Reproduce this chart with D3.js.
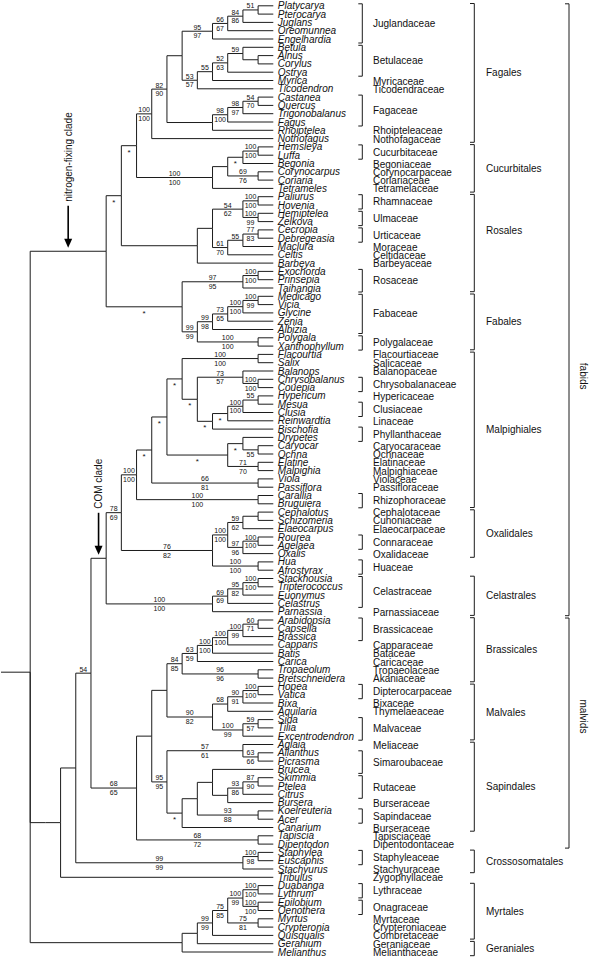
<!DOCTYPE html>
<html><head><meta charset="utf-8">
<script src="https://cdn.jsdelivr.net/npm/d3@7"></script>
<style>
html,body{margin:0;padding:0;background:#fff;}
svg{display:block;font-family:"Liberation Sans",Arial,Helvetica,sans-serif;}
</style></head><body>
<svg id="chart" width="600" height="975"></svg>
<script>
// ---------------- DATA ----------------
const taxa = ["Platycarya","Pterocarya","Juglans","Oreomunnea","Engelhardia","Betula","Alnus","Corylus","Ostrya","Myrica","Ticodendron","Castanea","Quercus","Trigonobalanus","Fagus","Rhoiptelea","Nothofagus","Hemsleya","Luffa","Begonia","Corynocarpus","Coriaria","Tetrameles","Paliurus","Hovenia","Hemiptelea","Zelkova","Cecropia","Debregeasia","Maclura","Celtis","Barbeya","Exochorda","Prinsepia","Taihangia","Medicago","Vicia","Glycine","Zenia","Albizia","Polygala","Xanthophyllum","Flacourtia","Salix","Balanops","Chrysobalanus","Couepia","Hypericum","Mesua","Clusia","Reinwardtia","Bischofia","Drypetes","Caryocar","Ochna","Elatine","Malpighia","Viola","Passiflora","Carallia","Bruguiera","Cephalotus","Schizomeria","Elaeocarpus","Rourea","Agelaea","Oxalis","Hua","Afrostyrax","Stackhousia","Tripterococcus","Euonymus","Celastrus","Parnassia","Arabidopsia","Capsella","Brassica","Capparis","Batis","Carica","Tropaeolum","Bretschneidera","Hopea","Vatica","Bixa","Aquilaria","Sida","Tilia","Excentrodendron","Aglaia","Ailanthus","Picrasma","Brucea","Skimmia","Ptelea","Citrus","Bursera","Koelreuteria","Acer","Canarium","Tapiscia","Dipentodon","Staphylea","Euscaphis","Stachyurus","Tribulus","Duabanga","Lythrum","Epilobium","Oenothera","Myrtus","Crypteronia","Quisqualis","Geranium","Melianthus"];

// clade topology with support values "top/bottom" (Newick pieces)
const fagalesTree = "(((((((Platycarya,Pterocarya)51/,Juglans)84/86,Oreomunnea)66/67,Engelhardia)95/97,((((Betula,(Alnus,Corylus))59/,Ostrya)52/63,Myrica)55/,Ticodendron)53/57),((((Castanea,Quercus)54/70,Trigonobalanus)98/97,Fagus)98/100,Rhoiptelea))82/90,Nothofagus)100/100";
const cucurbitalesTree = "((((Hemsleya,Luffa)100/100,Begonia)/*,(Corynocarpus,Coriaria)69/76),Tetrameles)100/100";
const rosalesTree = "((((Paliurus,Hovenia)100/100,(Hemiptelea,Zelkova)100/99)54/62,(((Cecropia,Debregeasia)77/83,Maclura)55/,Celtis)61/70),Barbeya)";
const rosaceaeFabalesTree = "(((Exochorda,Prinsepia)100/100,Taihangia)97/95,(((((Medicago,Vicia)100/99,Glycine)100/100,Zenia)73/65,Albizia)99/98,(Polygala,Xanthophyllum)100/100)99/99)/*";
const malpighialesTree = "((((((Flacourtia,Salix)100/100,((Balanops,(Chrysobalanus,Couepia)100/100)73/57,((((Hypericum,Mesua)55/,Clusia)100/100,Reinwardtia)/*,Bischofia)/*)/*)/*,((Drypetes,(Caryocar,Ochna)/55)/*,(Elatine,Malpighia)71/70)/*)/*,(Viola,Passiflora)66/81)/*,(Carallia,Bruguiera)100/100)100/100";
const oxalidalesTree = "((((Cephalotus,Schizomeria),Elaeocarpus)59/62,((Rourea,Agelaea)100/100,Oxalis)97/96)100/100,(Hua,Afrostyrax)100/100)76/82";
const celastralesTree = "((((Stackhousia,Tripterococcus)100/100,Euonymus)95/82,Celastrus)69/69,Parnassia)100/100";
const brassicalesTree = "((((((Arabidopsia,Capsella)60/71,Brassica)100/99,Capparis)100/100,Batis)100/100,Carica)63/59,(Tropaeolum,Bretschneidera)96/96)84/85";
const malvalesTree = "((((Hopea,Vatica)100/100,Bixa)90/91,Aquilaria)68/,((Sida,Tilia)59/57,Excentrodendron)100/99)90/82";
const sapindalesTree = "((Aglaia,(Ailanthus,Picrasma)63/66)57/61,(((Brucea,(((Skimmia,Ptelea)87/90,Citrus)93/86,Bursera)),(Koelreuteria,Acer)93/88),Canarium)/*)95/95";
const crossosomatalesTree = "((Staphylea,Euscaphis)100/98,Stachyurus)99/99";
const myrtalesGeranialesTree = "((((((Duabanga,Lythrum)100/100,(Epilobium,Oenothera)100/100)100/99,(Myrtus,Crypteronia)75/81)75/85,Quisqualis)99/99,Geranium),Melianthus)";

const nitrogenTree = "(((" + fagalesTree + "," + cucurbitalesTree + ")/*," + rosalesTree + ")/*," + rosaceaeFabalesTree + ")";
const comTree = "((" + malpighialesTree + "," + oxalidalesTree + ")78/69," + celastralesTree + ")";
const malvidsTree = "(((" + brassicalesTree + "," + malvalesTree + ")," + sapindalesTree + "),(Tapiscia,Dipentodon)68/72)68/65";
const restTree = "(((" + comTree + "," + malvidsTree + ")54/," + crossosomatalesTree + "),Tribulus)";
const treeNewick = "((" + nitrogenTree + "," + restTree + ")," + myrtalesGeranialesTree + ");";

// families: [name, first taxon, last taxon]
const families = [["Juglandaceae","Platycarya","Engelhardia"],["Betulaceae","Betula","Ostrya"],["Myricaceae","Myrica","Myrica"],["Ticodendraceae","Ticodendron","Ticodendron"],["Fagaceae","Castanea","Fagus"],["Rhoipteleaceae","Rhoiptelea","Rhoiptelea"],["Nothofagaceae","Nothofagus","Nothofagus"],["Cucurbitaceae","Hemsleya","Luffa"],["Begoniaceae","Begonia","Begonia"],["Corynocarpaceae","Corynocarpus","Corynocarpus"],["Coriariaceae","Coriaria","Coriaria"],["Tetramelaceae","Tetrameles","Tetrameles"],["Rhamnaceae","Paliurus","Hovenia"],["Ulmaceae","Hemiptelea","Zelkova"],["Urticaceae","Cecropia","Debregeasia"],["Moraceae","Maclura","Maclura"],["Celtidaceae","Celtis","Celtis"],["Barbeyaceae","Barbeya","Barbeya"],["Rosaceae","Exochorda","Taihangia"],["Fabaceae","Medicago","Albizia"],["Polygalaceae","Polygala","Xanthophyllum"],["Flacourtiaceae","Flacourtia","Flacourtia"],["Salicaceae","Salix","Salix"],["Balanopaceae","Balanops","Balanops"],["Chrysobalanaceae","Chrysobalanus","Couepia"],["Hypericaceae","Hypericum","Hypericum"],["Clusiaceae","Mesua","Clusia"],["Linaceae","Reinwardtia","Reinwardtia"],["Phyllanthaceae","Bischofia","Drypetes"],["Caryocaraceae","Caryocar","Caryocar"],["Ochnaceae","Ochna","Ochna"],["Elatinaceae","Elatine","Elatine"],["Malpighiaceae","Malpighia","Malpighia"],["Violaceae","Viola","Viola"],["Passifloraceae","Passiflora","Passiflora"],["Rhizophoraceae","Carallia","Bruguiera"],["Cephalotaceae","Cephalotus","Cephalotus"],["Cunoniaceae","Schizomeria","Schizomeria"],["Elaeocarpaceae","Elaeocarpus","Elaeocarpus"],["Connaraceae","Rourea","Agelaea"],["Oxalidaceae","Oxalis","Oxalis"],["Huaceae","Hua","Afrostyrax"],["Celastraceae","Stackhousia","Celastrus"],["Parnassiaceae","Parnassia","Parnassia"],["Brassicaceae","Arabidopsia","Brassica"],["Capparaceae","Capparis","Capparis"],["Bataceae","Batis","Batis"],["Caricaceae","Carica","Carica"],["Tropaeolaceae","Tropaeolum","Tropaeolum"],["Akaniaceae","Bretschneidera","Bretschneidera"],["Dipterocarpaceae","Hopea","Vatica"],["Bixaceae","Bixa","Bixa"],["Thymelaeaceae","Aquilaria","Aquilaria"],["Malvaceae","Sida","Excentrodendron"],["Meliaceae","Aglaia","Aglaia"],["Simaroubaceae","Ailanthus","Brucea"],["Rutaceae","Skimmia","Citrus"],["Burseraceae","Bursera","Bursera"],["Sapindaceae","Koelreuteria","Acer"],["Burseraceae","Canarium","Canarium"],["Tapisciaceae","Tapiscia","Tapiscia"],["Dipentodontaceae","Dipentodon","Dipentodon"],["Staphyleaceae","Staphylea","Euscaphis"],["Stachyuraceae","Stachyurus","Stachyurus"],["Zygophyllaceae","Tribulus","Tribulus"],["Lythraceae","Duabanga","Lythrum"],["Onagraceae","Epilobium","Oenothera"],["Myrtaceae","Myrtus","Myrtus"],["Crypteroniaceae","Crypteronia","Crypteronia"],["Combretaceae","Quisqualis","Quisqualis"],["Geraniaceae","Geranium","Geranium"],["Melianthaceae","Melianthus","Melianthus"]];

// orders: [name, first taxon, last taxon, label centred on first..last (optional)]
const orders = [["Fagales","Platycarya","Nothofagus"],["Cucurbitales","Hemsleya","Tetrameles"],["Rosales","Paliurus","Taihangia","Paliurus","Barbeya"],["Fabales","Medicago","Xanthophyllum"],["Malpighiales","Flacourtia","Bruguiera"],["Oxalidales","Cephalotus","Oxalis"],["Celastrales","Stackhousia","Parnassia"],["Brassicales","Arabidopsia","Bretschneidera"],["Malvales","Hopea","Excentrodendron"],["Sapindales","Aglaia","Canarium"],["Crossosomatales","Staphylea","Stachyurus"],["Myrtales","Duabanga","Quisqualis"],["Geraniales","Geranium","Melianthus"]];

// large groups: [name, first, last, label centred between]
const groups = [["fabids","Platycarya","Parnassia","Balanops","Chrysobalanus"],["malvids","Arabidopsia","Dipentodon","Aquilaria","Sida"]];

// annotated clades (arrow on stem): [label, first taxon, last taxon]
const clades = [["nitrogen-fixing clade","Platycarya","Xanthophyllum"],["COM clade","Flacourtia","Parnassia"]];

// ---------------- PARSER ----------------
function parseNewick(str){
  const s = str.replace(/\s+/g,"");
  let i = 0;
  function node(){
    const n = {};
    if (s[i] === "("){
      i++; n.children = [];
      n.children.push(node());
      while (s[i] === ","){ i++; n.children.push(node()); }
      i++; // ')'
    }
    let lab = "";
    while (i < s.length && ",();".indexOf(s[i]) < 0) lab += s[i++];
    if (n.children){
      const parts = lab.split("/");
      n.top = parts[0] || ""; n.bottom = parts[1] || "";
    } else n.name = lab;
    return n;
  }
  return node();
}

// ---------------- LAYOUT ----------------
const svg = d3.select("#chart");
const ink = "#1c1c1c";
const root = d3.hierarchy(parseNewick(treeNewick));
d3.cluster().size([taxa.length, 1]).separation(() => 1)(root);
const rowY = d3.scaleLinear().domain([0.5, taxa.length - 0.5]).range([5.8, 952]);
const depthX = d3.scaleLinear().domain([0, 1]).range([15, 273.3]);
root.each(d => { d.px = depthX(d.y); d.py = rowY(d.x); });
const idx = new Map(taxa.map((t, k) => [t, k]));
const rowOf = name => rowY(idx.get(name) + 0.5);

// branches
const gTree = svg.append("g");
gTree.selectAll("path.link").data(root.links()).join("path")
  .attr("class","link")
  .attr("d", l => `M${l.source.px},${l.source.py}V${l.target.py}H${l.target.px}`)
  .attr("fill","none").attr("stroke",ink).attr("stroke-width",1);
gTree.append("path").attr("d",`M1,${root.py}H${root.px}`).attr("stroke",ink).attr("stroke-width",1);

// support values
const inner = root.descendants().filter(d => d.parent && d.children);
const gSup = svg.append("g").attr("font-size",7).attr("text-anchor","middle").attr("fill","#111");
inner.forEach(d => {
  const mx = (d.parent.px + d.px) / 2;
  if (d.data.top) gSup.append("text").attr("x", mx).attr("y", d.py - 1.6).text(d.data.top);
  if (d.data.bottom){
    const star = d.data.bottom === "*";
    gSup.append("text").attr("x", mx).attr("y", d.py + (star ? 9 : 7.2))
      .attr("font-size", star ? 8 : 7).text(d.data.bottom);
  }
});

// taxon names
svg.append("g").attr("font-size",10).attr("font-style","italic").attr("fill","#111")
  .selectAll("text").data(root.leaves()).join("text")
  .attr("x", depthX(1) + 4.5).attr("y", d => d.py).attr("dy","0.35em")
  .text(d => d.data.name);

// brackets helper
function bracket(g, x, y0, y1, tick){
  g.append("path").attr("d",`M${x - tick},${y0}H${x}V${y1}H${x - tick}`)
    .attr("fill","none").attr("stroke",ink).attr("stroke-width",1);
}

// families
const gFam = svg.append("g").attr("font-size",10).attr("fill","#111");
families.forEach(([name, a, b]) => {
  let yc;
  if (a !== b){
    const y0 = rowOf(a) - 2, y1 = rowOf(b) + 4;
    bracket(gFam, 362.3, y0, y1, 4);
    yc = (y0 + y1) / 2;
  } else yc = rowOf(a) + 0.5;
  gFam.append("text").attr("x", 373).attr("y", yc).attr("dy","0.35em").text(name);
});

// orders
const gOrd = svg.append("g").attr("font-size",10).attr("fill","#111");
orders.forEach(([name, a, b, la, lb]) => {
  const y0 = rowOf(a) - 2.3, y1 = rowOf(b) + 3.7;
  bracket(gOrd, 474.3, y0, y1, 4.3);
  const yc = la ? (rowOf(la) + rowOf(lb)) / 2 + 1 : (y0 + y1) / 2;
  gOrd.append("text").attr("x", 486).attr("y", yc).attr("dy","0.35em").text(name);
});

// fabids / malvids
const gGrp = svg.append("g").attr("font-size",10).attr("fill","#111");
groups.forEach(([name, a, b, la, lb]) => {
  const y0 = rowOf(a) - 2, y1 = rowOf(b) + 4;
  bracket(gGrp, 569, y0, y1, 4);
  const yc = (rowOf(la) + rowOf(lb)) / 2 + 1;
  gGrp.append("text").attr("text-anchor","middle")
    .attr("transform",`translate(583,${yc}) rotate(90)`).attr("dy","0.35em").text(name);
});

// clade arrows
const gCl = svg.append("g").attr("fill","#111");
clades.forEach(([name, a, b]) => {
  const node = root.descendants().find(d => {
    const lv = d.leaves();
    return lv[0].data.name === a && lv[lv.length - 1].data.name === b;
  });
  const ax = (node.parent.px + node.px) / 2;
  const tip = node.py - 3.5;
  const headTop = tip - 9;
  const shaftTop = headTop - 33;
  gCl.append("path").attr("d",`M${ax - 4},${headTop}L${ax + 4},${headTop}L${ax},${tip}Z`).attr("fill","#000");
  gCl.append("line").attr("x1",ax).attr("x2",ax).attr("y1",shaftTop).attr("y2",headTop + 1)
    .attr("stroke","#000").attr("stroke-width",1.6);
  gCl.append("text").attr("font-size",10).attr("text-anchor","start")
    .attr("transform",`translate(${ax},${shaftTop - 4}) rotate(-90)`).attr("dy","0.35em").text(name);
});
</script>
</body></html>
